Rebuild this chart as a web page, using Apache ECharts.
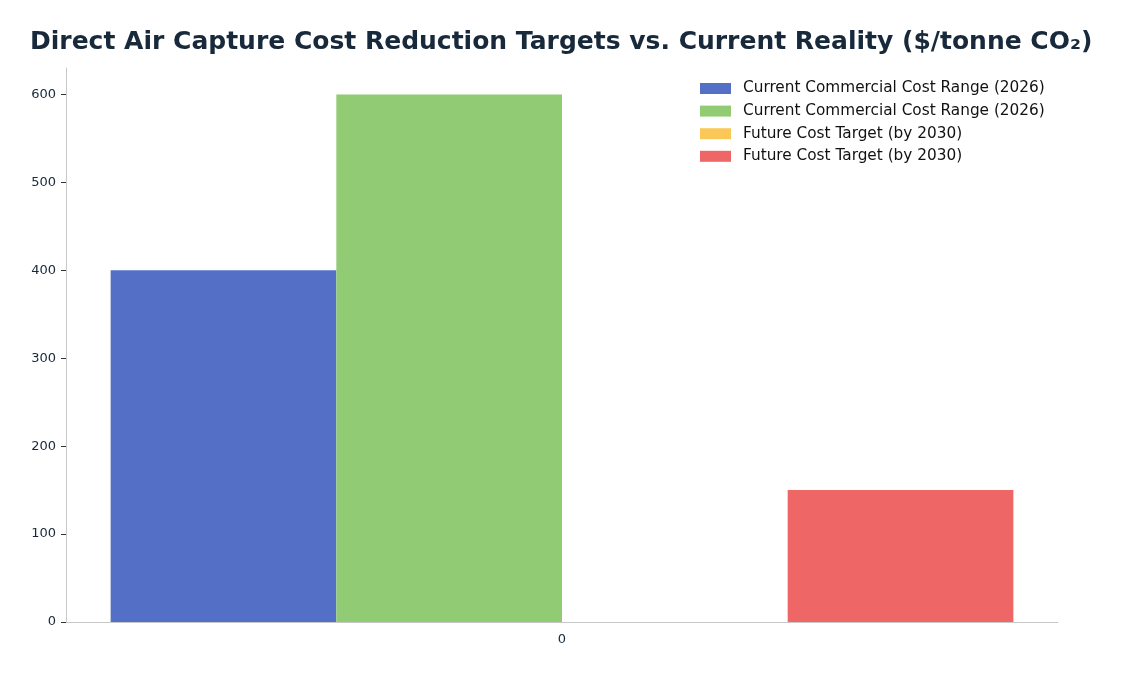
<!DOCTYPE html>
<html>
<head>
<meta charset="utf-8">
<script src="https://cdn.jsdelivr.net/npm/echarts@6/dist/echarts.min.js"></script>
<style>
  html, body { margin: 0; padding: 0; background: #fff; }
  #chart { width: 1124px; height: 676px; }
</style>
</head>
<body>
<div id="chart"></div>
<script>
// data
var categories = ['0'];
var seriesNames = [
    'Current Commercial Cost Range (2026)',
    'Current Commercial Cost Range (2026)',
    'Future Cost Target (by 2030)',
    'Future Cost Target (by 2030)'
];
var seriesValues = [[400], [600], [0], [150]];
var seriesColors = ['#5470c6', '#91cc75', '#fac858', '#ee6666'];
var yTicks = [0, 100, 200, 300, 400, 500, 600];

var myChart = echarts.init(document.getElementById('chart'));
var font = 'DejaVu Sans';

var series = seriesValues.map(function(vals, i) {
    return {
        name: seriesNames[i] + (i % 2 ? '\u200b' : ''),
        type: 'bar',
        data: vals,
        barGap: '0%',
        barCategoryGap: '9%',
        itemStyle: { color: seriesColors[i] }
    };
});

var option = {
    animation: false,
    textStyle: { fontFamily: font },
    title: {
        text: 'Direct Air Capture Cost Reduction Targets vs. Current Reality ($/tonne CO\u2082)',
        left: 25,
        top: 25,
        textStyle: { fontFamily: font, fontSize: 25, fontWeight: 'bold', color: '#17293a' }
    },
    legend: {
        orient: 'vertical',
        left: 695,
        top: 76,
        itemWidth: 31,
        itemHeight: 11,
        itemGap: 7.6,
        icon: 'rect',
        formatter: function(n) { return n.replace('\u200b', ''); },
        textStyle: { fontFamily: font, fontSize: 15.3, color: '#111', padding: [0, 0, 0, 7] },
        data: series.map(function(s) { return s.name; })
    },
    grid: { left: 66, right: 66, top: 68, bottom: 54, containLabel: false },
    xAxis: {
        type: 'category',
        data: categories,
        axisLine: { lineStyle: { color: '#c8c8c8' } },
        axisTick: { alignWithLabel: true, length: 5, lineStyle: { color: '#333' } },
        axisLabel: { fontFamily: font, fontSize: 13, color: '#17293a', margin: 11 }
    },
    yAxis: {
        type: 'value',
        min: 0,
        max: 630,
        interval: 100,
        splitLine: { show: false },
        axisLine: { show: true, lineStyle: { color: '#c8c8c8' } },
        axisTick: { show: true, length: 5, lineStyle: { color: '#333' } },
        axisLabel: {
            fontFamily: font, fontSize: 13, color: '#17293a', margin: 10,
            showMaxLabel: false,
            formatter: function(v) { return yTicks.indexOf(v) >= 0 ? String(v) : ''; }
        }
    },
    series: series
};
myChart.setOption(option);
</script>
</body>
</html>
